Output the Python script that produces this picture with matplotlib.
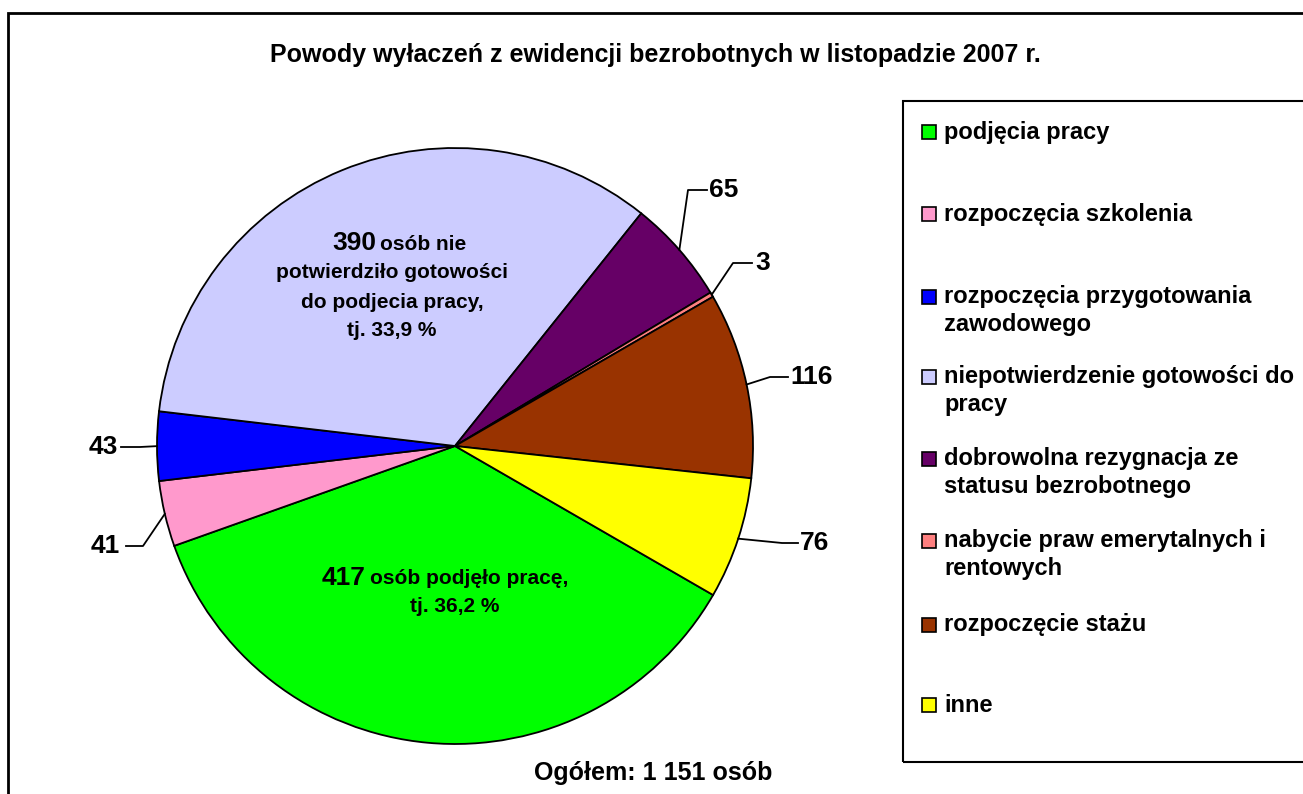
import numpy as np
import matplotlib.pyplot as plt
from matplotlib.patches import Rectangle

W, H = 1303, 794

# DATA -------------------
categories = [
    "podjęcia pracy",
    "rozpoczęcia szkolenia",
    "rozpoczęcia przygotowania\nzawodowego",
    "niepotwierdzenie gotowości do\npracy",
    "dobrowolna rezygnacja ze\nstatusu bezrobotnego",
    "nabycie praw emerytalnych i\nrentowych",
    "rozpoczęcie stażu",
    "inne",
]
values = [417, 41, 43, 390, 65, 3, 116, 76]
colors = ["#00FF00", "#FF99CC", "#0000FF", "#CCCCFF",
          "#660066", "#FF8080", "#993300", "#FFFF00"]
total = sum(values)

title = "Powody wyłaczeń z ewidencji bezrobotnych w listopadzie 2007 r."
footer = "Ogółem: 1 151 osób"

# LAYOUT (image pixel coords, y down) -------------------
PIE_CX, PIE_CY, PIE_R = 455, 446, 298
# outer labels: slice index -> (elbow x, elbow y, line end x, text x, ha)
outer = {
    4: (688, 190, 707, 709, "left"),
    5: (733, 263, 752, 755, "left"),
    6: (770, 377, 788, 790, "left"),
    7: (782, 543, 798, 800, "left"),
    2: (140, 447, 121, 118, "right"),
    1: (143, 546, 126, 120, "right"),
}
legend_y = [132, 214, 297, 377, 459, 541, 625, 705]


def Y(y):
    return H - y


def pct_text(v):
    return "tj. " + f"{v / total * 100:.1f}".replace(".", ",") + " %"


plt.rcParams['font.family'] = ['Liberation Sans', 'DejaVu Sans']
plt.rcParams['font.weight'] = 'bold'

fig = plt.figure(figsize=(W / 100, H / 100), dpi=100)
ax = fig.add_axes([0, 0, 1, 1])

wedges, _ = ax.pie(values, colors=colors, startangle=-30, counterclock=False,
                   center=(PIE_CX, Y(PIE_CY)), radius=PIE_R,
                   wedgeprops=dict(edgecolor="black", linewidth=1.3))
ax.set_xlim(0, W)
ax.set_ylim(0, H)
ax.set_aspect("equal")
ax.axis("off")

# outer frame and legend box
ax.add_patch(Rectangle((8, Y(W)), W, Y(13) - Y(W), fill=False,
                       edgecolor="black", linewidth=2, clip_on=False))
ax.add_patch(Rectangle((903, Y(762)), 500, 661, fill=False,
                       edgecolor="black", linewidth=1.5))

# outer data labels with leader lines
for i, (ex, ey, lx, tx, ha) in outer.items():
    w = wedges[i]
    ang = np.deg2rad((w.theta1 + w.theta2) / 2)
    axp = PIE_CX + PIE_R * np.cos(ang)
    ayp = Y(PIE_CY) + PIE_R * np.sin(ang)
    ax.plot([axp, ex, lx], [ayp, Y(ey), Y(ey)], color="black", lw=1.3)
    ax.text(tx, Y(ey), str(values[i]), ha=ha, va="center", fontsize=19)

# inner labels
ax.text(376, Y(243), str(values[3]), ha="right", va="center", fontsize=19)
ax.text(380, Y(244), "osób nie", ha="left", va="center", fontsize=15)
ax.text(392, Y(272), "potwierdziło gotowości", ha="center", va="center", fontsize=15)
ax.text(392, Y(302), "do podjecia pracy,", ha="center", va="center", fontsize=15)
ax.text(392, Y(330), pct_text(values[3]), ha="center", va="center", fontsize=15)

ax.text(365, Y(578), str(values[0]), ha="right", va="center", fontsize=19)
ax.text(370, Y(579), "osób podjęło pracę,", ha="left", va="center", fontsize=15)
ax.text(455, Y(607), pct_text(values[0]), ha="center", va="center", fontsize=15)

# title and footer
ax.text(655, Y(55), title, ha="center", va="center", fontsize=18)
ax.text(653, Y(773), footer, ha="center", va="center", fontsize=18)

# legend
for lab, c, y in zip(categories, colors, legend_y):
    ax.add_patch(Rectangle((922, Y(y) - 7), 14, 14, facecolor=c,
                           edgecolor="black", linewidth=1.2))
    for k, line in enumerate(lab.split("\n")):
        ax.text(944, Y(y + 28 * k), line, ha="left", va="center", fontsize=17)

plt.savefig("out.png", dpi=100)
